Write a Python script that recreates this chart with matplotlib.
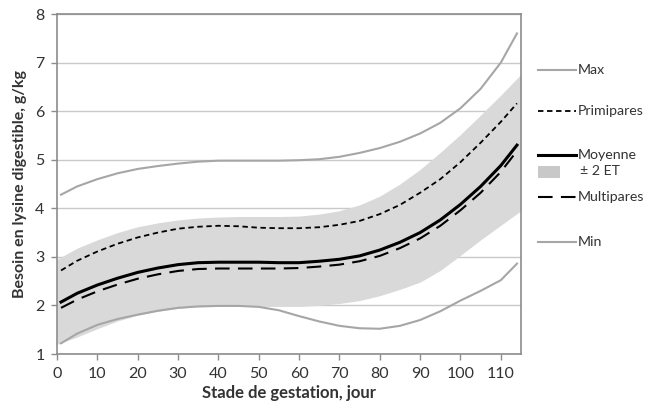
import matplotlib
matplotlib.use("Agg")
import matplotlib.pyplot as plt
from matplotlib.lines import Line2D
from matplotlib.patches import Rectangle

days = [1, 5, 10, 15, 20, 25, 30, 35, 40, 45, 50, 55, 60, 65, 70, 75, 80, 85, 90, 95, 100, 105, 110, 114]
moyenne = [2.07, 2.25, 2.42, 2.56, 2.68, 2.77, 2.84, 2.88, 2.89, 2.89, 2.89, 2.88, 2.88, 2.91, 2.95, 3.02, 3.14, 3.30, 3.50, 3.76, 4.08, 4.45, 4.88, 5.30]
primipares = [2.72, 2.92, 3.11, 3.27, 3.40, 3.50, 3.58, 3.62, 3.64, 3.63, 3.60, 3.59, 3.59, 3.61, 3.66, 3.74, 3.88, 4.07, 4.32, 4.60, 4.95, 5.35, 5.78, 6.16]
multipares = [1.95, 2.12, 2.29, 2.43, 2.55, 2.64, 2.71, 2.75, 2.76, 2.76, 2.76, 2.76, 2.77, 2.80, 2.84, 2.91, 3.02, 3.18, 3.38, 3.64, 3.96, 4.32, 4.75, 5.18]
maxv = [4.28, 4.45, 4.60, 4.72, 4.81, 4.87, 4.92, 4.96, 4.98, 4.98, 4.98, 4.98, 4.99, 5.01, 5.06, 5.14, 5.24, 5.37, 5.54, 5.76, 6.06, 6.46, 7.00, 7.60]
minv = [1.22, 1.42, 1.60, 1.72, 1.81, 1.89, 1.95, 1.98, 1.99, 1.99, 1.97, 1.90, 1.78, 1.67, 1.58, 1.53, 1.52, 1.58, 1.70, 1.88, 2.10, 2.30, 2.52, 2.86]
band_days = [0, 5, 10, 15, 20, 25, 30, 35, 40, 45, 50, 55, 60, 65, 70, 75, 80, 85, 90, 95, 100, 105, 110, 115]
band_hi = [2.95, 3.18, 3.35, 3.50, 3.62, 3.70, 3.76, 3.80, 3.82, 3.83, 3.83, 3.83, 3.84, 3.88, 3.95, 4.07, 4.25, 4.50, 4.80, 5.15, 5.52, 5.92, 6.33, 6.76]
band_lo = [1.20, 1.35, 1.52, 1.68, 1.80, 1.88, 1.94, 1.97, 1.98, 1.98, 1.98, 1.98, 1.98, 2.00, 2.04, 2.10, 2.20, 2.33, 2.48, 2.72, 3.03, 3.35, 3.65, 3.95]

xticks = list(range(0, 111, 10))
yticks = [1, 2, 3, 4, 5, 6, 7, 8]

plt.rcParams['font.family'] = ['Lato', 'DejaVu Sans']

fig = plt.figure(figsize=(6.47, 4.12), dpi=100)
ax = fig.add_axes([57/647, 1-354/412, (521-57)/647, (354-14)/412])

grid_c = '#C9C9C9'
line_gray = '#A6A6A6'
band_c = '#D9D9D9'
text_c = '#333333'

ax.fill_between(band_days, band_lo, band_hi, color=band_c, linewidth=0, zorder=1)
ax.plot(days, maxv, color=line_gray, lw=1.5, zorder=3)
ax.plot(days, minv, color=line_gray, lw=1.5, zorder=3)
ax.plot(days, primipares, color='black', lw=1.3, ls=(0, (3, 2)), zorder=4)
ax.plot(days, multipares, color='black', lw=1.5, ls=(0, (7, 4)), zorder=4)
ax.plot(days, moyenne, color='black', lw=2.2, zorder=5)

ax.set_xlim(0, 115)
ax.set_ylim(1, 8)
ax.set_xticks(xticks)
ax.set_yticks(yticks)
ax.yaxis.grid(True, color=grid_c, lw=1, zorder=0)
ax.set_axisbelow(True)
for s in ax.spines.values():
    s.set_color('#8C8C8C')
    s.set_linewidth(1.2)
ax.tick_params(axis='both', colors='#8C8C8C', labelcolor=text_c, labelsize=11.5, length=4, width=1)
ax.tick_params(axis='x', pad=5)
ax.tick_params(axis='y', pad=5)
ax.set_xlabel('Stade de gestation, jour', fontsize=12, fontweight='bold', labelpad=3, color=text_c)
ax.set_ylabel('Besoin en lysine digestible, g/kg', fontsize=11.5, fontweight='bold', labelpad=6, color=text_c)

# Legend (manual)
def fx(px):
    return px / 647
def fy(py):
    return 1 - py / 412

entries = [
    (70, 'Max', dict(color=line_gray, lw=1.5)),
    (111, 'Primipares', dict(color='black', lw=1.3, ls=(0, (3, 2)))),
    (155, 'Moyenne', dict(color='black', lw=2.2)),
    (197, 'Multipares', dict(color='black', lw=1.5, ls=(0, (7, 4)))),
    (242, 'Min', dict(color=line_gray, lw=1.5)),
]
for py, label, kw in entries:
    fig.add_artist(Line2D([fx(538), fx(576)], [fy(py), fy(py)], transform=fig.transFigure, **kw))
    fig.text(fx(578), fy(py), label, fontsize=10.2, va='center', ha='left', color=text_c)
fig.add_artist(Rectangle((fx(538), fy(178)), fx(22), 12/412, transform=fig.transFigure,
                         facecolor='#C8C8C8', edgecolor='none'))
fig.text(fx(580), fy(171), '± 2 ET', fontsize=10.2, va='center', ha='left', color=text_c)

fig.savefig('out.png', dpi=100)
